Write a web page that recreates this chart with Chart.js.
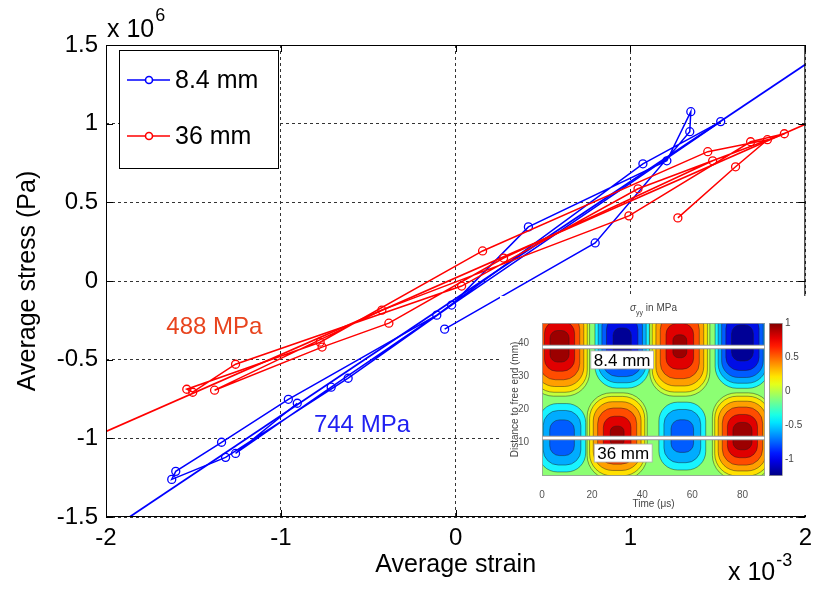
<!DOCTYPE html>
<html>
<head>
<meta charset="utf-8">
<script src="https://cdn.jsdelivr.net/npm/chart.js@4.4.1/dist/chart.umd.min.js"></script>
<style>
  body { margin: 0; background: #fff; }
  #wrap { position: relative; width: 819px; height: 598px; }
  #main { position: absolute; left: 0; top: 0; }
  #inset { position: absolute; left: 500px; top: 296px; background: #fff; }
</style>
</head>
<body>
<div id="wrap">
  <canvas id="main" width="819" height="598"></canvas>
  <canvas id="inset" width="306" height="219"></canvas>
</div>
<script>
// strain is in units of 1e-3, stress in units of 1e6 Pa
const strain84 = [-0.063, 0.798, 1.339, 1.345, 1.208, 0.416, -0.023, -0.615, -1.316, -1.624,
                  -1.601, -1.339, -0.957, -0.108, 1.071, 1.516, -0.712, -1.259, -0.906];
const stress84 = [-0.306, 0.242, 0.949, 1.076, 0.764, 0.344, -0.153, -0.618, -1.121, -1.261,
                  -1.210, -1.025, -0.752, -0.217, 0.745, 1.013, -0.675, -1.096, -0.777];
const strain36 = [1.271, 1.601, 1.783, 1.442, 0.154, -0.775, -1.538, -1.504, -1.259, 0.034,
                  1.043, 1.880, 1.687, 0.991, -0.422, -1.379, -0.764, -0.382, 0.274, 1.470];
const stress36 = [0.401, 0.726, 0.898, 0.822, 0.191, -0.389, -0.688, -0.707, -0.529, -0.032,
                  0.586, 0.936, 0.885, 0.414, -0.185, -0.694, -0.420, -0.268, 0.146, 0.764];

// linear fits: modulus in MPa, offset in 1e6 Pa
const fitModulus = [744, 488];
const fitOffset = [-0.112, 0.02];
const fitRange = [-2, 2];

const strainTicks = [-2, -1, 0, 1, 2];
const stressTicks = [-1.5, -1, -0.5, 0, 0.5, 1, 1.5];
const seriesNames = ['8.4 mm', '36 mm'];

// sigma_yy field for the inset: lobe centres (time in us, distance in mm) and peak stress in MPa
const lobeTime = [7, 32, 55, 80, 8, 30, 56, 80];
const lobeDist = [39, 40, 39, 40, 11.5, 12, 12, 12];
const lobePeak = [1.0, -1.1, 0.95, -1.15, -0.75, 0.95, -0.72, 1.0];
const lobeHalfTime = [12, 12, 12, 12, 11, 12, 11, 12];
const lobeHalfDist = [15, 15, 15, 15, 12, 13, 12, 13];
const posLevels = [0.0, 0.15, 0.35, 0.55, 0.75, 0.9];
const negLevels = [-0.2, -0.4, -0.6, -0.8, -1.0];
const timeTicks = [0, 20, 40, 60, 80];
const distTicks = [10, 20, 30, 40];
const colorbarTicks = [1, 0.5, 0, -0.5, -1];
const colorbarRange = [-1.24, 1];
const gaugeTime = [0, 89];
const gaugeDist = [38.8, 11.4];

const FONT = "'Liberation Sans', Arial, sans-serif";
const BLUE = '#0000ff';
const RED = '#ff0000';

function toPoints(xs, ys) {
    return xs.map((x, i) => ({ x: x, y: ys[i] }));
}

function fitLine(k) {
    return fitRange.map(x => ({ x: x, y: fitModulus[k] / 1000 * x + fitOffset[k] }));
}

// box, inward ticks, legend, labels and exponents, MATLAB style
const framePlugin = {
    id: 'frame',
    afterDatasetsDraw(chart) {
        const { ctx, chartArea: a, scales: { x, y } } = chart;
        ctx.save();
        ctx.strokeStyle = '#000';
        ctx.lineWidth = 1;
        ctx.strokeRect(a.left + 0.5, a.top + 0.5, a.right - a.left - 1, a.bottom - a.top - 1);

        const tl = 7;
        ctx.beginPath();
        strainTicks.forEach(v => {
            const px = Math.round(x.getPixelForValue(v)) + 0.5;
            ctx.moveTo(px, a.bottom); ctx.lineTo(px, a.bottom - tl);
            ctx.moveTo(px, a.top); ctx.lineTo(px, a.top + tl);
        });
        stressTicks.forEach(v => {
            const py = Math.round(y.getPixelForValue(v)) + 0.5;
            ctx.moveTo(a.left, py); ctx.lineTo(a.left + tl, py);
            ctx.moveTo(a.right, py); ctx.lineTo(a.right - tl, py);
        });
        ctx.stroke();

        // legend
        const lx = a.left + 13, ly = a.top + 5, lw = 159, lh = 118;
        ctx.fillStyle = '#fff';
        ctx.fillRect(lx, ly, lw, lh);
        ctx.strokeRect(lx + 0.5, ly + 0.5, lw, lh);
        [BLUE, RED].forEach((c, i) => {
            const yy = ly + 30 + i * 56;
            ctx.strokeStyle = c;
            ctx.lineWidth = 1.6;
            ctx.beginPath();
            ctx.moveTo(lx + 8, yy); ctx.lineTo(lx + 51, yy);
            ctx.stroke();
            ctx.beginPath();
            ctx.arc(lx + 30, yy, 3.5, 0, Math.PI * 2);
            ctx.fillStyle = '#fff';
            ctx.fill();
            ctx.stroke();
            ctx.fillStyle = '#000';
            ctx.font = '25px ' + FONT;
            ctx.textAlign = 'left';
            ctx.textBaseline = 'middle';
            ctx.fillText(seriesNames[i], lx + 56, yy + 1);
        });

        // modulus labels
        ctx.font = '24px ' + FONT;
        ctx.textAlign = 'center';
        ctx.textBaseline = 'middle';
        ctx.fillStyle = '#e8441e';
        ctx.fillText(fitModulus[1] + ' MPa', x.getPixelForValue(-1.38), y.getPixelForValue(-0.295));
        ctx.fillStyle = '#2121f2';
        ctx.fillText(fitModulus[0] + ' MPa', x.getPixelForValue(-0.536), y.getPixelForValue(-0.915));

        // axis exponents
        ctx.fillStyle = '#000';
        ctx.textAlign = 'left';
        ctx.textBaseline = 'alphabetic';
        ctx.font = '25px ' + FONT;
        ctx.fillText('x 10', a.left + 1, 37);
        let w = ctx.measureText('x 10').width;
        ctx.font = '18px ' + FONT;
        ctx.fillText('6', a.left + 2 + w, 21);
        ctx.font = '25px ' + FONT;
        ctx.fillText('x 10', 728, 580);
        w = ctx.measureText('x 10').width;
        ctx.font = '18px ' + FONT;
        ctx.fillText('-3', 729 + w, 566);
        ctx.restore();
    }
};

new Chart(document.getElementById('main'), {
    type: 'scatter',
    data: {
        datasets: [
            {
                label: seriesNames[0], data: toPoints(strain84, stress84), showLine: true,
                borderColor: BLUE, borderWidth: 1.5, pointRadius: 4, pointBorderWidth: 1.3,
                pointBorderColor: BLUE, pointBackgroundColor: 'rgba(0,0,0,0)', order: 4
            },
            {
                label: 'fit ' + seriesNames[0], data: fitLine(0), showLine: true,
                borderColor: BLUE, borderWidth: 1.8, pointRadius: 0, order: 3
            },
            {
                label: seriesNames[1], data: toPoints(strain36, stress36), showLine: true,
                borderColor: RED, borderWidth: 1.5, pointRadius: 4, pointBorderWidth: 1.3,
                pointBorderColor: RED, pointBackgroundColor: 'rgba(0,0,0,0)', order: 2
            },
            {
                label: 'fit ' + seriesNames[1], data: fitLine(1), showLine: true,
                borderColor: RED, borderWidth: 1.8, pointRadius: 0, order: 1
            }
        ]
    },
    options: {
        responsive: false,
        animation: false,
        layout: { padding: { left: 0, top: 45, right: 11, bottom: 0 } },
        plugins: { legend: { display: false }, tooltip: { enabled: false } },
        scales: {
            x: {
                type: 'linear', min: -2, max: 2,
                afterBuildTicks: s => { s.ticks = strainTicks.map(v => ({ value: v })); },
                afterFit: s => { s.height = 81; },
                ticks: { color: '#000', font: { family: FONT, size: 24 }, padding: 7, callback: v => String(v) },
                grid: { color: '#333', lineWidth: 1, drawTicks: false },
                border: { display: false, dash: [3, 3] },
                title: {
                    display: true, text: 'Average strain', color: '#000',
                    font: { family: FONT, size: 25 }, padding: { top: 0, bottom: 18 }
                }
            },
            y: {
                type: 'linear', min: -1.5, max: 1.5,
                afterBuildTicks: s => { s.ticks = stressTicks.map(v => ({ value: v })); },
                afterFit: s => { s.width = 106; },
                ticks: { color: '#000', font: { family: FONT, size: 24 }, padding: 8, callback: v => String(v) },
                grid: { color: '#333', lineWidth: 1, drawTicks: false },
                border: { display: false, dash: [3, 3] },
                title: {
                    display: true, text: 'Average stress (Pa)', color: '#000',
                    font: { family: FONT, size: 25 }, padding: { top: 13, bottom: 0 }
                }
            }
        }
    },
    plugins: [framePlugin]
});

// ---- inset: sigma_yy contour map ----
const posColors = ['#c4ff3b', '#ffe000', '#ff9f00', '#ff4c00', '#e00000', '#9c0000'];
const negColors = ['#18f4ff', '#00acff', '#005cff', '#000ee6', '#000096'];

function jet(n) {
    const r = Math.min(Math.max(Math.min(4 * n - 1.5, -4 * n + 4.5), 0), 1);
    const g = Math.min(Math.max(Math.min(4 * n - 0.5, -4 * n + 3.5), 0), 1);
    const b = Math.min(Math.max(Math.min(4 * n + 0.5, -4 * n + 2.5), 0), 1);
    return 'rgb(' + Math.round(r * 255) + ',' + Math.round(g * 255) + ',' + Math.round(b * 255) + ')';
}

const fieldPlugin = {
    id: 'field',
    beforeDatasetsDraw(chart) {
        const { ctx, chartArea: a, scales: { x, y } } = chart;
        ctx.save();
        ctx.beginPath();
        ctx.rect(a.left, a.top, a.right - a.left, a.bottom - a.top);
        ctx.clip();
        ctx.fillStyle = '#8cff73';
        ctx.fillRect(a.left, a.top, a.right - a.left, a.bottom - a.top);
        ctx.strokeStyle = 'rgba(30,30,30,0.75)';
        ctx.lineWidth = 0.6;
        lobeTime.forEach((t, i) => {
            const peak = lobePeak[i];
            const levels = peak > 0 ? posLevels : negLevels;
            const colors = peak > 0 ? posColors : negColors;
            const cx = x.getPixelForValue(t);
            const cy = y.getPixelForValue(lobeDist[i]);
            const rx = x.getPixelForValue(t + lobeHalfTime[i]) - cx;
            const ry = cy - y.getPixelForValue(lobeDist[i] + lobeHalfDist[i]);
            levels.forEach((lv, k) => {
                if (Math.abs(lv) >= Math.abs(peak)) return;
                const f = Math.sqrt(1 - lv / peak);
                const w = rx * f, h = ry * f;
                ctx.beginPath();
                ctx.roundRect(cx - w, cy - h, 2 * w, 2 * h, Math.min(w, h) * 0.8);
                ctx.fillStyle = colors[k];
                ctx.fill();
                ctx.stroke();
            });
        });
        ctx.restore();
    },
    afterDatasetsDraw(chart) {
        const { ctx, chartArea: a, scales: { x, y } } = chart;
        ctx.save();
        // gauge labels
        ctx.font = '17px ' + FONT;
        ctx.textAlign = 'center';
        ctx.textBaseline = 'middle';
        [[32, 34.9, seriesNames[0]], [32.4, 6.9, seriesNames[1]]].forEach(([t, d, txt]) => {
            const px = x.getPixelForValue(t), py = y.getPixelForValue(d);
            const w = ctx.measureText(txt).width + 6;
            ctx.fillStyle = '#fff';
            ctx.fillRect(px - w / 2, py - 9, w, 18);
            ctx.strokeStyle = '#aaa';
            ctx.lineWidth = 0.8;
            ctx.strokeRect(px - w / 2, py - 9, w, 18);
            ctx.fillStyle = '#000';
            ctx.fillText(txt, px, py + 1);
        });
        ctx.strokeStyle = '#999';
        ctx.lineWidth = 0.8;
        ctx.strokeRect(a.left + 0.5, a.top + 0.5, a.right - a.left - 1, a.bottom - a.top - 1);

        // colorbar
        const cbL = a.right + 4, cbW = 13;
        const cbY = v => a.top + (colorbarRange[1] - v) / (colorbarRange[1] - colorbarRange[0]) * (a.bottom - a.top);
        const grad = ctx.createLinearGradient(0, a.bottom, 0, a.top);
        for (let s = 0; s <= 20; s++) grad.addColorStop(s / 20, jet(s / 20));
        ctx.fillStyle = grad;
        ctx.fillRect(cbL, a.top, cbW, a.bottom - a.top);
        ctx.strokeRect(cbL + 0.5, a.top + 0.5, cbW, a.bottom - a.top - 1);
        ctx.fillStyle = '#444';
        ctx.font = '10px ' + FONT;
        ctx.textAlign = 'left';
        ctx.textBaseline = 'middle';
        colorbarTicks.forEach(v => {
            ctx.fillText(String(v), cbL + cbW + 3, cbY(v));
        });

        // title: sigma_yy in MPa
        const cx = (a.left + a.right) / 2;
        ctx.fillStyle = '#444';
        ctx.font = 'italic 10px ' + FONT;
        const w1 = ctx.measureText('σ').width;
        ctx.font = '7px ' + FONT;
        const w2 = ctx.measureText('yy').width;
        ctx.font = '10px ' + FONT;
        const w3 = ctx.measureText(' in MPa').width;
        let sx = cx - (w1 + w2 + w3) / 2;
        ctx.textBaseline = 'alphabetic';
        ctx.font = 'italic 10px ' + FONT;
        ctx.fillText('σ', sx, 15);
        ctx.font = '7px ' + FONT;
        ctx.fillText('yy', sx + w1, 19);
        ctx.font = '10px ' + FONT;
        ctx.fillText(' in MPa', sx + w1 + w2, 15);
        ctx.restore();
    }
};

new Chart(document.getElementById('inset'), {
    type: 'scatter',
    data: {
        datasets: gaugeDist.flatMap((d, i) => [
            {
                label: 'gauge ' + seriesNames[i], data: toPoints(gaugeTime, [d, d]), showLine: true,
                borderColor: '#fff', borderWidth: 2.5, pointRadius: 0, order: 1
            },
            {
                label: 'gauge edge ' + seriesNames[i], data: toPoints(gaugeTime, [d, d]), showLine: true,
                borderColor: '#999', borderWidth: 4.5, pointRadius: 0, order: 2
            }
        ])
    },
    options: {
        responsive: false,
        animation: false,
        layout: { padding: { left: 0, top: 27, right: 41, bottom: 0 } },
        plugins: { legend: { display: false }, tooltip: { enabled: false } },
        scales: {
            x: {
                type: 'linear', min: 0, max: 89,
                afterBuildTicks: s => { s.ticks = timeTicks.map(v => ({ value: v })); },
                afterFit: s => { s.height = 39; },
                ticks: { color: '#555', font: { family: FONT, size: 10 }, padding: 5 },
                grid: { display: false },
                border: { display: false },
                title: {
                    display: true, text: 'Time (μs)', color: '#444',
                    font: { family: FONT, size: 10 }, padding: { top: 0, bottom: 5 }
                }
            },
            y: {
                type: 'linear', min: 0, max: 46,
                afterBuildTicks: s => { s.ticks = distTicks.map(v => ({ value: v })); },
                afterFit: s => { s.width = 42; },
                ticks: { color: '#555', font: { family: FONT, size: 10 }, padding: 5 },
                grid: { display: false },
                border: { display: false },
                title: {
                    display: true, text: 'Distance to free end (mm)', color: '#444',
                    font: { family: FONT, size: 10 }, padding: { top: 9, bottom: 0 }
                }
            }
        }
    },
    plugins: [fieldPlugin]
});
</script>
</body>
</html>
